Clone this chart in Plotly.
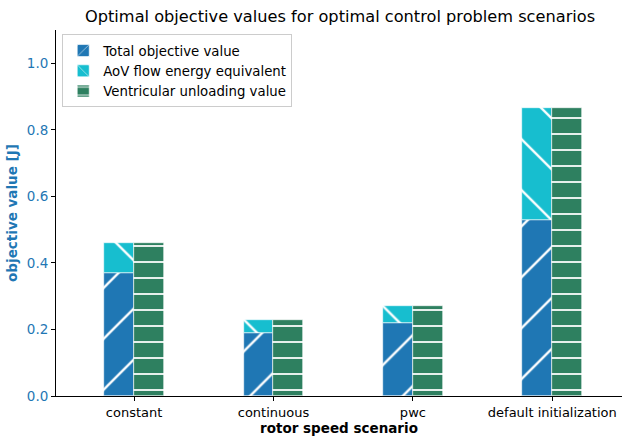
import plotly.graph_objects as go

scenarios = ["constant", "continuous", "pwc", "default initialization"]
total_objective = [0.369, 0.190, 0.219, 0.530]
aov_flow_energy = [0.090, 0.037, 0.053, 0.337]
ventricular_unloading = [0.459, 0.227, 0.272, 0.867]

blue = "#1f77b4"
cyan = "#17becf"
green = "#2e8060"
W = 0.215

fig = go.Figure()
fig.add_trace(go.Bar(
    x=scenarios, y=total_objective, name="Total objective value",
    width=W, offset=-W, marker=dict(color=blue, line=dict(width=0.6, color="white"),
    pattern=dict(shape="/", fgcolor="white", fgopacity=1, bgcolor=blue, size=36, solidity=0.065, fillmode="overlay")),
))
fig.add_trace(go.Bar(
    x=scenarios, y=aov_flow_energy, base=total_objective, name="AoV flow energy equivalent",
    width=W, offset=-W, marker=dict(color=cyan, line=dict(width=0.6, color="white"),
    pattern=dict(shape="\\", fgcolor="white", fgopacity=1, bgcolor=cyan, size=36, solidity=0.065, fillmode="overlay")),
))
fig.add_trace(go.Bar(
    x=scenarios, y=ventricular_unloading, name="Ventricular unloading value",
    width=W, offset=0, marker=dict(color=green, line=dict(width=0.6, color="white"),
    pattern=dict(shape="-", fgcolor="white", fgopacity=1, bgcolor=green, size=16, solidity=0.11, fillmode="overlay")),
))

fig.update_layout(
    width=624, height=441, barmode="overlay",
    font=dict(family="DejaVu Sans", size=13, color="black"),
    paper_bgcolor="white", plot_bgcolor="white",
    margin=dict(l=56, r=2, t=30, b=45, autoexpand=False),
    title=dict(text="Optimal objective values for optimal control problem scenarios",
               x=0.545, xanchor="center", y=0.962, yanchor="middle", font=dict(size=16.2)),
    showlegend=True,
    legend=dict(x=0.011, y=0.988, xanchor="left", yanchor="top", bgcolor="rgba(255,255,255,0.8)",
                bordercolor="#cccccc", borderwidth=1, font=dict(size=13.3), tracegroupgap=0,
                itemwidth=30),
    bargap=0,
)
fig.update_xaxes(range=[-0.56, 3.5], showline=True, linecolor="black", linewidth=1,
                 ticks="outside", ticklen=4, tickcolor="black", showgrid=False,
                 tickfont=dict(size=13), automargin=False,
                 title=dict(text="<b>rotor speed scenario</b>", font=dict(size=13.5), standoff=4),
                 mirror=False)
fig.update_yaxes(range=[0, 1.1], showline=True, linecolor="black", linewidth=1,
                 ticks="outside", ticklen=4, tickcolor="black", showgrid=False, automargin=False,
                 tickvals=[0, 0.2, 0.4, 0.6, 0.8, 1.0], ticktext=["0.0", "0.2", "0.4", "0.6", "0.8", "1.0"],
                 tickfont=dict(size=13.5, color=blue), zeroline=False,
                 title=dict(text="<b>objective value [J]</b>", font=dict(size=13.5, color=blue), standoff=6))

fig.write_html("out.html", config={"displayModeBar": False},
               post_script="document.body.style.margin='0';")
